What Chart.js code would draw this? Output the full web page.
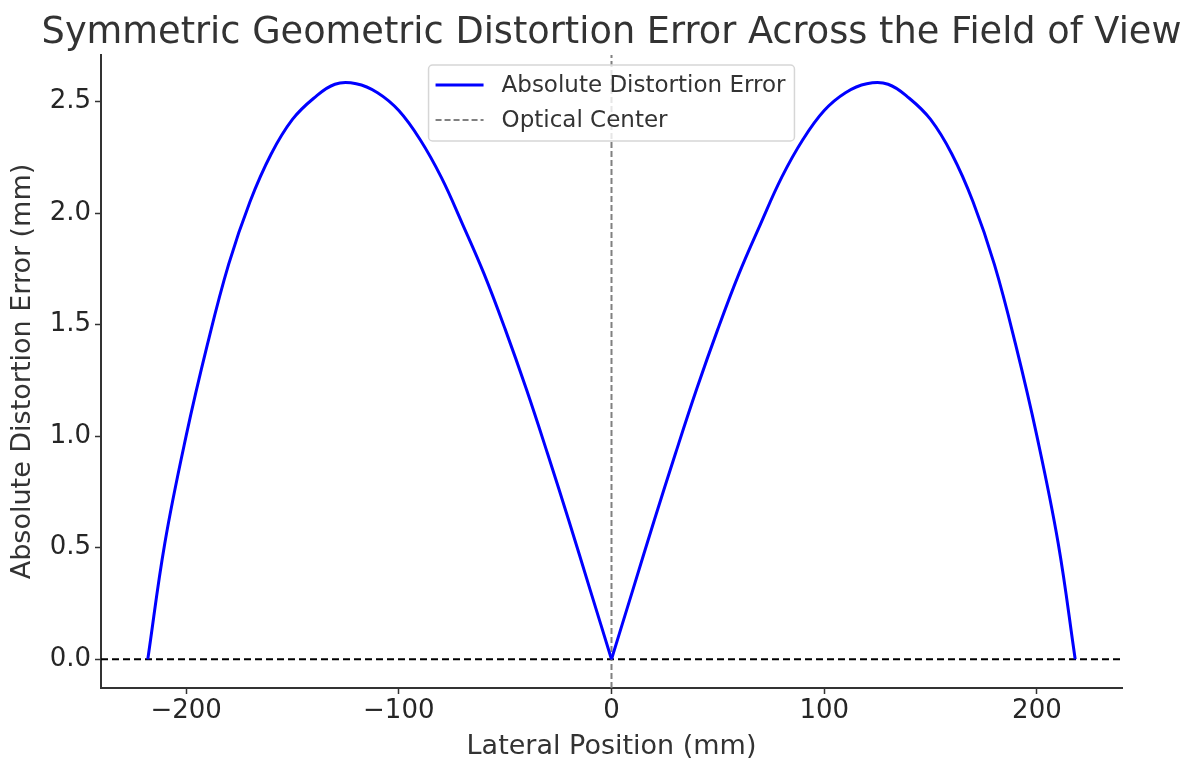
<!DOCTYPE html>
<html>
<head>
<meta charset="utf-8">
<script src="https://cdn.jsdelivr.net/npm/chart.js@4.4.1/dist/chart.umd.min.js"></script>
<style>
  body { margin: 0; background: #fff; }
  #wrap { width: 1191px; height: 758px; position: relative; }
</style>
</head>
<body>
<div id="wrap"><canvas id="chart"></canvas></div>
<script>
// Lateral positions (mm) and absolute distortion error (mm).
// Left lobe runs from the left edge of the field to the optical center,
// right lobe from the optical center to the right edge.
const leftPositions = [
  -218, -210, -200, -190, -180, -170, -160, -150, -140, -130, -120,
  -110, -100, -90, -80, -70, -60, -50, -40, -30, -20, -10, 0
];
const leftErrors = [
  0, 0.52, 1.0, 1.41, 1.77, 2.05, 2.265, 2.42, 2.515, 2.578, 2.58,
  2.54, 2.46, 2.33, 2.16, 1.95, 1.73, 1.48, 1.21, 0.92, 0.62, 0.31, 0
];
const rightPositions = [
  0, 10, 20, 30, 40, 50, 60, 70, 80, 90, 100, 110,
  120, 130, 140, 150, 160, 170, 180, 190, 200, 210, 218
];
const rightErrors = [
  0, 0.31, 0.62, 0.92, 1.21, 1.48, 1.73, 1.95, 2.16, 2.33, 2.46, 2.54,
  2.58, 2.578, 2.515, 2.42, 2.265, 2.05, 1.77, 1.41, 1.0, 0.52, 0
];
const xTicks = [-200, -100, 0, 100, 200];
const yTicks = [0, 0.5, 1.0, 1.5, 2.0, 2.5];

const X_MIN = -240, X_MAX = 240;
const Y_MIN = -0.129, Y_MAX = 2.709;

const TITLE = "Symmetric Geometric Distortion Error Across the Field of View";
const FONT = "'DejaVu Sans', sans-serif";

// Title centred over the plot area (not the whole canvas)
const axesTitle = {
  id: "axesTitle",
  afterDraw(chart) {
    const ctx = chart.ctx;
    const area = chart.chartArea;
    ctx.save();
    ctx.font = "36.7px " + FONT;
    ctx.fillStyle = "#333";
    ctx.textAlign = "center";
    ctx.textBaseline = "alphabetic";
    ctx.fillText(TITLE, (area.left + area.right) / 2, 43);
    ctx.restore();
  },
};

// Legend box drawn inside the plot, upper center
const boxLegend = {
  id: "boxLegend",
  afterDatasetsDraw(chart) {
    const ctx = chart.ctx;
    const area = chart.chartArea;
    const items = chart.data.datasets
      .filter((d) => d.legendRank)
      .sort((a, b) => a.legendRank - b.legendRank);
    ctx.save();
    ctx.font = "23px " + FONT;
    let textW = 0;
    items.forEach((d) => (textW = Math.max(textW, ctx.measureText(d.label).width)));
    const w = 7 + 48 + 18 + textW + 9;
    const h = 76;
    const x0 = (area.left + area.right) / 2 - w / 2;
    const y0 = area.top + 10;
    ctx.beginPath();
    ctx.roundRect(x0, y0, w, h, 4);
    ctx.fillStyle = "rgba(255,255,255,0.8)";
    ctx.fill();
    ctx.strokeStyle = "#d6d6d6";
    ctx.lineWidth = 1.5;
    ctx.stroke();
    items.forEach((d, i) => {
      const y = y0 + 20 + i * 35;
      ctx.beginPath();
      ctx.setLineDash(d.borderDash || []);
      ctx.strokeStyle = d.borderColor;
      ctx.lineWidth = d.borderWidth;
      ctx.moveTo(x0 + 7, y);
      ctx.lineTo(x0 + 55, y);
      ctx.stroke();
      ctx.setLineDash([]);
      ctx.fillStyle = "#333";
      ctx.textBaseline = "middle";
      ctx.fillText(d.label, x0 + 73, y + 1);
    });
    ctx.restore();
  },
};

const lobeStyle = {
  showLine: true,
  borderColor: "#0000ff",
  borderWidth: 3,
  tension: 0.4,
  pointRadius: 0,
  order: 1,
};

new Chart(document.getElementById("chart"), {
  type: "scatter",
  data: {
    datasets: [
      {
        label: "Zero",
        data: [{ x: X_MIN, y: 0 }, { x: X_MAX, y: 0 }],
        showLine: true,
        borderColor: "#000",
        borderWidth: 2,
        borderDash: [7, 4],
        pointRadius: 0,
        order: 3,
      },
      {
        label: "Optical Center",
        legendRank: 2,
        data: [{ x: 0, y: Y_MIN }, { x: 0, y: Y_MAX }],
        showLine: true,
        borderColor: "#808080",
        borderWidth: 2,
        borderDash: [6, 3],
        pointRadius: 0,
        order: 2,
      },
      {
        ...lobeStyle,
        label: "Absolute Distortion Error",
        legendRank: 1,
        data: leftPositions.map((p, i) => ({ x: p, y: leftErrors[i] })),
      },
      {
        ...lobeStyle,
        label: "Absolute Distortion Error (right)",
        data: rightPositions.map((p, i) => ({ x: p, y: rightErrors[i] })),
      },
    ],
  },
  options: {
    responsive: true,
    maintainAspectRatio: false,
    animation: false,
    layout: { padding: { right: 69, left: 0, top: 55, bottom: 0 } },
    scales: {
      x: {
        type: "linear",
        min: X_MIN,
        max: X_MAX,
        afterBuildTicks: (axis) => (axis.ticks = xTicks.map((v) => ({ value: v }))),
        afterFit: (axis) => (axis.height = 70),
        ticks: {
          color: "#262626",
          font: { family: FONT, size: 26 },
          padding: 2,
          maxRotation: 0,
          callback: (v) => (v < 0 ? "\u2212" + Math.abs(v) : String(v)),
        },
        grid: { drawOnChartArea: false, tickLength: 6, tickColor: "#333", tickWidth: 1.5 },
        border: { display: true, color: "#333", width: 2 },
        title: {
          display: true,
          text: "Lateral Position (mm)",
          color: "#333",
          font: { family: FONT, size: 27, lineHeight: 0.85 },
          padding: { top: 0, bottom: 0 },
        },
      },
      y: {
        type: "linear",
        min: Y_MIN,
        max: Y_MAX,
        afterBuildTicks: (axis) => (axis.ticks = yTicks.map((v) => ({ value: v }))),
        afterFit: (axis) => (axis.width = 101),
        ticks: {
          color: "#262626",
          font: { family: FONT, size: 26 },
          padding: 4,
          callback: (v) => v.toFixed(1),
        },
        grid: { drawOnChartArea: false, tickLength: 6, tickColor: "#333", tickWidth: 1.5 },
        border: { display: true, color: "#333", width: 2 },
        title: {
          display: true,
          text: "Absolute Distortion Error (mm)",
          color: "#333",
          font: { family: FONT, size: 27 },
          padding: { top: 7, bottom: 0 },
        },
      },
    },
    plugins: {
      legend: { display: false },
      tooltip: { enabled: false },
      title: { display: false },
    },
  },
  plugins: [axesTitle, boxLegend],
});
</script>
</body>
</html>
